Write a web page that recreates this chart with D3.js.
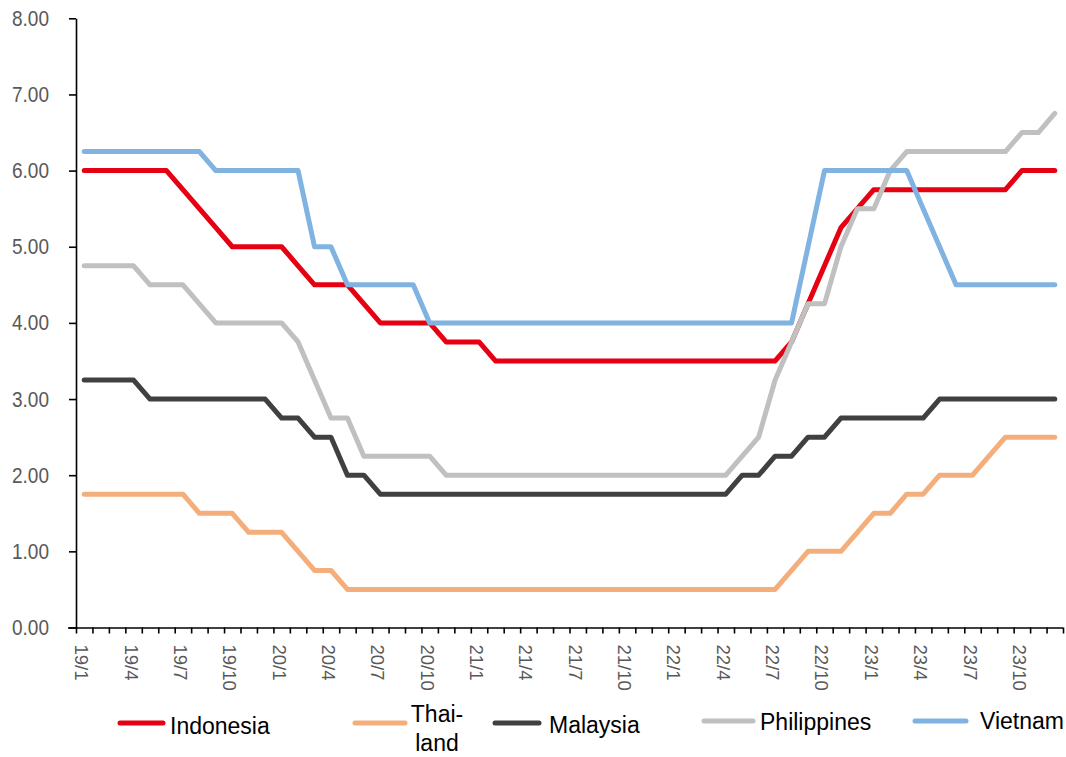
<!DOCTYPE html>
<html>
<head>
<meta charset="utf-8">
<script src="https://cdn.jsdelivr.net/npm/d3@7"></script>
<style>
  html, body { margin: 0; padding: 0; background: #fff; }
  svg { display: block; }
  text { font-family: "Liberation Sans", Arial, sans-serif; }
</style>
</head>
<body>
<svg id="chart" width="1066" height="757"></svg>
<script>
// ---- Data (monthly, 2019/01 .. 2023/12) ----
const months = [];
for (let y = 19; y <= 23; y++) for (let m = 1; m <= 12; m++) months.push(y + "/" + m);

const indonesia = [
  6.00,6.00,6.00,6.00,6.00,6.00,5.75,5.50,5.25,5.00,5.00,5.00,
  5.00,4.75,4.50,4.50,4.50,4.25,4.00,4.00,4.00,4.00,3.75,3.75,
  3.75,3.50,3.50,3.50,3.50,3.50,3.50,3.50,3.50,3.50,3.50,3.50,
  3.50,3.50,3.50,3.50,3.50,3.50,3.50,3.75,4.25,4.75,5.25,5.50,
  5.75,5.75,5.75,5.75,5.75,5.75,5.75,5.75,5.75,6.00,6.00,6.00
];
const thailand = [
  1.75,1.75,1.75,1.75,1.75,1.75,1.75,1.50,1.50,1.50,1.25,1.25,
  1.25,1.00,0.75,0.75,0.50,0.50,0.50,0.50,0.50,0.50,0.50,0.50,
  0.50,0.50,0.50,0.50,0.50,0.50,0.50,0.50,0.50,0.50,0.50,0.50,
  0.50,0.50,0.50,0.50,0.50,0.50,0.50,0.75,1.00,1.00,1.00,1.25,
  1.50,1.50,1.75,1.75,2.00,2.00,2.00,2.25,2.50,2.50,2.50,2.50
];
const malaysia = [
  3.25,3.25,3.25,3.25,3.00,3.00,3.00,3.00,3.00,3.00,3.00,3.00,
  2.75,2.75,2.50,2.50,2.00,2.00,1.75,1.75,1.75,1.75,1.75,1.75,
  1.75,1.75,1.75,1.75,1.75,1.75,1.75,1.75,1.75,1.75,1.75,1.75,
  1.75,1.75,1.75,1.75,2.00,2.00,2.25,2.25,2.50,2.50,2.75,2.75,
  2.75,2.75,2.75,2.75,3.00,3.00,3.00,3.00,3.00,3.00,3.00,3.00
];
const philippines = [
  4.75,4.75,4.75,4.75,4.50,4.50,4.50,4.25,4.00,4.00,4.00,4.00,
  4.00,3.75,3.25,2.75,2.75,2.25,2.25,2.25,2.25,2.25,2.00,2.00,
  2.00,2.00,2.00,2.00,2.00,2.00,2.00,2.00,2.00,2.00,2.00,2.00,
  2.00,2.00,2.00,2.00,2.25,2.50,3.25,3.75,4.25,4.25,5.00,5.50,
  5.50,6.00,6.25,6.25,6.25,6.25,6.25,6.25,6.25,6.50,6.50,6.75
];
const vietnam = [
  6.25,6.25,6.25,6.25,6.25,6.25,6.25,6.25,6.00,6.00,6.00,6.00,
  6.00,6.00,5.00,5.00,4.50,4.50,4.50,4.50,4.50,4.00,4.00,4.00,
  4.00,4.00,4.00,4.00,4.00,4.00,4.00,4.00,4.00,4.00,4.00,4.00,
  4.00,4.00,4.00,4.00,4.00,4.00,4.00,4.00,5.00,6.00,6.00,6.00,
  6.00,6.00,6.00,5.50,5.00,4.50,4.50,4.50,4.50,4.50,4.50,4.50
];

const seriesNames = ["Indonesia", "Thai-land", "Malaysia", "Philippines", "Vietnam"];
const seriesValues = [indonesia, thailand, malaysia, philippines, vietnam];
const seriesColors = ["#E60012", "#F4AE7C", "#404040", "#C0C0C0", "#80B2E2"];
const yTicks = [0, 1, 2, 3, 4, 5, 6, 7, 8];
const xLabelMonths = months.filter((d, i) => i % 3 === 0);

// ---- Layout ----
const svg = d3.select("#chart");
const plotLeft = 76, plotRight = 1063, plotTop = 18.3, plotBottom = 627.5;

const x = d3.scaleBand().domain(months).range([plotLeft, plotRight]);
const xEdge = d3.scaleLinear().domain([0, months.length]).range([plotLeft, plotRight]);
const y = d3.scaleLinear().domain([0, 8]).range([plotBottom, plotTop]);

// ---- Y axis ----
const yAxis = svg.append("g")
  .attr("transform", `translate(${plotLeft},0)`)
  .call(d3.axisLeft(y).tickValues(yTicks).tickFormat(d3.format(".2f")).tickSize(7).tickPadding(20).tickSizeOuter(0));
yAxis.select(".domain").attr("stroke", "#000").attr("stroke-width", 1.6);
yAxis.selectAll(".tick line").attr("stroke", "#000").attr("stroke-width", 1.6);
yAxis.selectAll(".tick text")
  .attr("fill", "#595959")
  .attr("font-size", 22)
  .attr("font-family", "Liberation Sans, Arial, sans-serif")
  .attr("textLength", 37)
  .attr("lengthAdjust", "spacingAndGlyphs");

// ---- X axis (ticks between categories) ----
const xAxis = svg.append("g")
  .attr("transform", `translate(0,${plotBottom})`)
  .call(d3.axisBottom(xEdge).tickValues(d3.range(months.length + 1)).tickFormat("").tickSize(6).tickSizeOuter(0));
xAxis.select(".domain").attr("stroke", "#000").attr("stroke-width", 1.6)
  .attr("d", `M${plotLeft - 8},0.5H${plotRight}`);
xAxis.selectAll(".tick line").attr("stroke", "#000").attr("stroke-width", 1.6);

svg.append("g").selectAll("text")
  .data(xLabelMonths)
  .join("text")
  .attr("transform", d => `translate(${x(d) + x.bandwidth() / 2 - 9},${plotBottom + 17}) rotate(90)`)
  .attr("fill", "#595959")
  .attr("font-size", 18.5)
  .attr("text-anchor", "start")
  .text(d => d);

// ---- Lines ----
const line = d3.line()
  .x((d, i) => x(months[i]) + x.bandwidth() / 2)
  .y(d => y(d));

svg.append("g").selectAll("path")
  .data(seriesValues)
  .join("path")
  .attr("d", d => line(d))
  .attr("fill", "none")
  .attr("stroke", (d, i) => seriesColors[i])
  .attr("stroke-width", 5)
  .attr("stroke-linejoin", "round")
  .attr("stroke-linecap", "round");

// ---- Legend ----
const legendItems = [
  { sx: 120, ex: 163, sy: 723, tx: 170, ty: 734, anchor: "start" },
  { sx: 355, ex: 405, sy: 723, tx: 437, ty: 722, anchor: "middle" },
  { sx: 495, ex: 539, sy: 723, tx: 549, ty: 733, anchor: "start" },
  { sx: 704, ex: 753, sy: 721, tx: 760, ty: 730, anchor: "start" },
  { sx: 915, ex: 966, sy: 721, tx: 980, ty: 729, anchor: "start" }
];
const legend = svg.append("g");
legendItems.forEach((p, i) => {
  legend.append("line")
    .attr("x1", p.sx).attr("x2", p.ex).attr("y1", p.sy).attr("y2", p.sy)
    .attr("stroke", seriesColors[i]).attr("stroke-width", 5).attr("stroke-linecap", "round");
  const parts = seriesNames[i].split("-");
  const t = legend.append("text")
    .attr("x", p.tx).attr("y", p.ty)
    .attr("text-anchor", p.anchor)
    .attr("font-size", 23)
    .attr("fill", "#000");
  if (parts.length > 1) {
    t.append("tspan").attr("x", p.tx).attr("y", p.ty).text(parts[0] + "-");
    t.append("tspan").attr("x", p.tx).attr("y", p.ty + 29).text(parts[1]);
  } else {
    t.text(seriesNames[i]);
  }
});
</script>
</body>
</html>
